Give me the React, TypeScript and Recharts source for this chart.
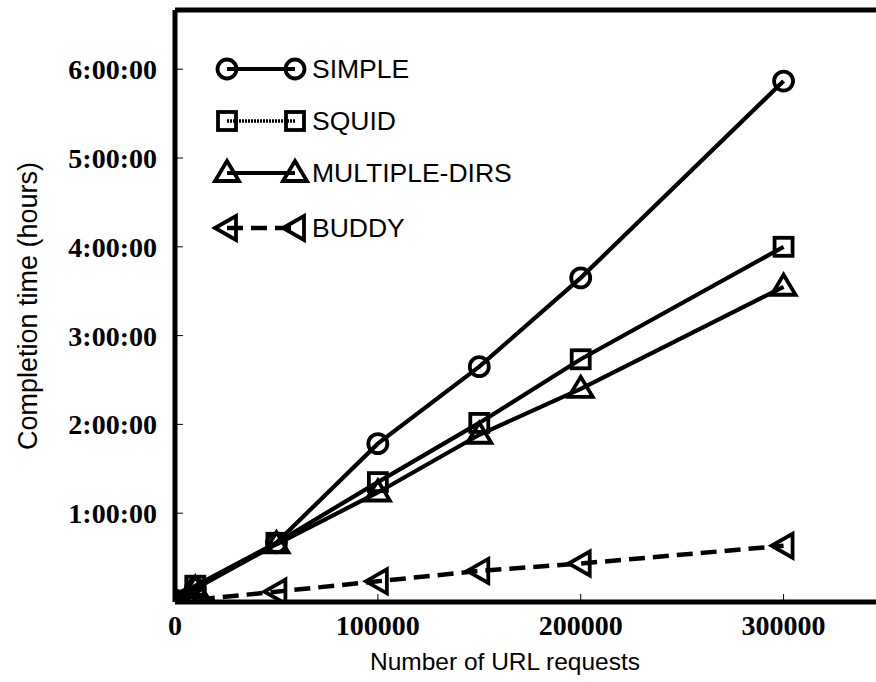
import { LineChart, Line, XAxis, YAxis, Legend } from "recharts";

// Number of URL requests replayed
const REQUESTS = [0, 10000, 50000, 100000, 150000, 200000, 300000];

// Completion time per storage scheme, in minutes
const SIMPLE = [1, 9, 40, 107, 159, 219, 352];
const SQUID = [1, 11, 40, 81, 121, 164, 240];
const MULTIPLE_DIRS = [1, 9, 39, 74, 113, 144, 213];
const BUDDY = [0, 1.5, 7, 14, 21, 26, 38];

const X_TICKS = [0, 100000, 200000, 300000];
const Y_TICKS = [60, 120, 180, 240, 300, 360];

const data = REQUESTS.map((requests, i) => ({
  requests,
  simple: SIMPLE[i],
  squid: SQUID[i],
  multipleDirs: MULTIPLE_DIRS[i],
  buddy: BUDDY[i],
}));

const INK = "#000";
const SANS = "'Liberation Sans', Arial, sans-serif";
const SERIF = "'Liberation Serif', 'Times New Roman', serif";

// minutes -> "h:00:00"
const formatHours = (m: number) => `${Math.round(m / 60)}:00:00`;

// ---------------------------------------------------------------------------
// Point markers (open, so the line runs through them)
// ---------------------------------------------------------------------------

interface MarkProps {
  cx: number;
  cy: number;
}

const MARK_W = 3.8;

function CircleMark({ cx, cy }: MarkProps) {
  return <circle cx={cx} cy={cy} r={9.5} fill="none" stroke={INK} strokeWidth={MARK_W} />;
}

function SquareMark({ cx, cy }: MarkProps) {
  return (
    <rect x={cx - 9} y={cy - 9} width={18} height={18} fill="none" stroke={INK} strokeWidth={MARK_W} />
  );
}

function TriangleMark({ cx, cy }: MarkProps) {
  const pts = `${cx},${cy - 12} ${cx - 12},${cy + 8} ${cx + 12},${cy + 8}`;
  return <polygon points={pts} fill="none" stroke={INK} strokeWidth={MARK_W} strokeLinejoin="miter" />;
}

function LeftTriangleMark({ cx, cy }: MarkProps) {
  const pts = `${cx - 12},${cy} ${cx + 9},${cy - 12} ${cx + 9},${cy + 12}`;
  return <polygon points={pts} fill="none" stroke={INK} strokeWidth={MARK_W} strokeLinejoin="miter" />;
}

interface SeriesDef {
  key: string;
  name: string;
  Mark: (p: MarkProps) => React.ReactElement;
  width: number;
  dash?: string;
  legendDash?: string;
  legendWidth?: number;
}

const SERIES: SeriesDef[] = [
  { key: "simple", name: "SIMPLE", Mark: CircleMark, width: 4.2 },
  { key: "squid", name: "SQUID", Mark: SquareMark, width: 4.2, legendDash: "2 1", legendWidth: 3.5 },
  { key: "multipleDirs", name: "MULTIPLE-DIRS", Mark: TriangleMark, width: 4.2 },
  { key: "buddy", name: "BUDDY", Mark: LeftTriangleMark, width: 4.5, dash: "16 8" },
];

// ---------------------------------------------------------------------------
// Legend: sample line with a marker at each end, label to the right
// ---------------------------------------------------------------------------

const LEGEND_ROWS = [25, 77, 129, 184];

function ChartLegend() {
  return (
    <svg width={320} height={210} style={{ display: "block", overflow: "visible" }}>
      {SERIES.map((s, i) => {
        const y = LEGEND_ROWS[i];
        return (
          <g key={s.key}>
            <line
              x1={22}
              x2={90}
              y1={y}
              y2={y}
              stroke={INK}
              strokeWidth={s.legendWidth ?? s.width}
              strokeDasharray={s.legendDash ?? s.dash}
            />
            <s.Mark cx={22} cy={y} />
            <s.Mark cx={90} cy={y} />
            <text
              x={107}
              y={y}
              dominantBaseline="central"
              fontFamily={SANS}
              fontSize={26.5}
              fill={INK}
            >
              {s.name}
            </text>
          </g>
        );
      })}
    </svg>
  );
}

// ---------------------------------------------------------------------------
// Axis titles
// ---------------------------------------------------------------------------

interface TitleProps {
  viewBox?: { x: number; y: number; width: number; height: number };
}

function XTitle({ viewBox }: TitleProps) {
  if (!viewBox) return null;
  return (
    <text
      x={viewBox.x + 330}
      y={viewBox.y + 68}
      textAnchor="middle"
      fontFamily={SANS}
      fontSize={24.5}
      fill={INK}
    >
      Number of URL requests
    </text>
  );
}

function YTitle({ viewBox }: TitleProps) {
  if (!viewBox) return null;
  const x = viewBox.x + 28;
  const y = viewBox.y + viewBox.height / 2;
  return (
    <text
      x={x}
      y={y}
      transform={`rotate(-90, ${x}, ${y})`}
      textAnchor="middle"
      dominantBaseline="central"
      fontFamily={SANS}
      fontSize={27}
      fill={INK}
    >
      Completion time (hours)
    </text>
  );
}

const tickFont = { fontFamily: SERIF, fontWeight: "bold", fontSize: 28, fill: INK };
const frameLine = { stroke: INK, strokeWidth: 5 };
const tickLine = { stroke: INK, strokeWidth: 1 };

export default function App() {
  return (
    <div
      style={{
        position: "absolute",
        left: 0,
        top: 0,
        width: 876,
        height: 682,
        overflow: "hidden",
        background: "#fff",
      }}
    >
      <LineChart
        width={900}
        height={682}
        data={data}
        margin={{ top: 9, right: 14, bottom: 0, left: 0 }}
      >
        {/* bottom axis with labels, ticks pointing into the plot */}
        <XAxis
          dataKey="requests"
          type="number"
          domain={[0, 350000]}
          allowDataOverflow
          ticks={X_TICKS}
          height={80}
          tickSize={-8}
          tickMargin={21}
          tick={tickFont}
          tickLine={tickLine}
          axisLine={frameLine}
          label={{ content: XTitle }}
        />
        {/* top frame edge, mirrored ticks */}
        <XAxis
          xAxisId="top"
          orientation="top"
          dataKey="requests"
          type="number"
          domain={[0, 350000]}
          allowDataOverflow
          ticks={X_TICKS}
          height={1}
          tickSize={-8}
          tick={false}
          tickLine={tickLine}
          axisLine={frameLine}
        />
        <YAxis
          type="number"
          domain={[0, 400]}
          allowDataOverflow
          ticks={Y_TICKS}
          width={175}
          tickSize={-8}
          tickMargin={26}
          tickFormatter={formatHours}
          tick={tickFont}
          tickLine={tickLine}
          axisLine={frameLine}
          label={{ content: YTitle }}
        />
        {/* right frame edge, mirrored ticks */}
        <YAxis
          yAxisId="right"
          orientation="right"
          type="number"
          domain={[0, 400]}
          allowDataOverflow
          ticks={Y_TICKS}
          width={1}
          tickSize={-8}
          tick={false}
          tickLine={tickLine}
          axisLine={frameLine}
        />
        <Legend
          layout="vertical"
          align="center"
          verticalAlign="middle"
          content={() => <ChartLegend />}
          wrapperStyle={{ left: 205, top: 44, width: 320, height: 210 }}
        />
        {/* invisible series that binds the frame axes */}
        <Line
          xAxisId="top"
          yAxisId="right"
          dataKey="simple"
          stroke="none"
          dot={false}
          activeDot={false}
          legendType="none"
          isAnimationActive={false}
        />
        {SERIES.map((s) => (
          <Line
            key={s.key}
            dataKey={s.key}
            name={s.name}
            type="linear"
            stroke={INK}
            strokeWidth={s.width}
            strokeDasharray={s.dash}
            dot={(p: { cx?: number; cy?: number; index?: number }) => (
              <s.Mark key={`${s.key}-${p.index}`} cx={p.cx ?? 0} cy={p.cy ?? 0} />
            )}
            activeDot={false}
            isAnimationActive={false}
          />
        ))}
      </LineChart>
    </div>
  );
}
